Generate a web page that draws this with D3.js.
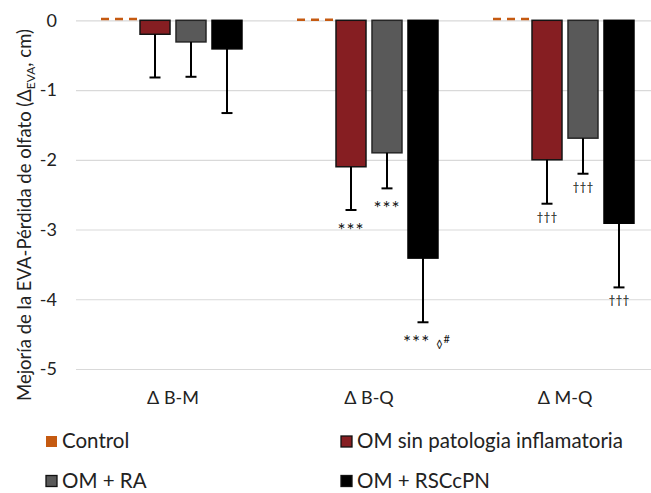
<!DOCTYPE html>
<meta charset="utf-8">
<style>
body {
  margin: 0;
  background: #fff;
}
svg text {
  font-family: Lato, "Open Sans", sans-serif;
  fill: #222;
}
.grid line {
  stroke: #d9d9d9;
  stroke-width: 1.2px;
}
.grid path,
.axis path {
  display: none;
}
.err {
  stroke: #000;
  stroke-width: 2px;
}
</style>
<body>
<div id="container"></div>
<script src="https://cdn.jsdelivr.net/npm/d3@7"></script>
<script>

// data
var categories = ["\u0394 B-M", "\u0394 B-Q", "\u0394 M-Q"];
var series = ["Control", "OM sin patologia inflamatoria", "OM + RA", "OM + RSCcPN"];
var control = [0.01, 0, 0.01];
var omSin = [-0.20, -2.10, -2.00];
var omRA = [-0.31, -1.90, -1.69];
var omRSC = [-0.41, -3.41, -2.91];
var errSin = [0.62, 0.62, 0.63];
var errRA = [0.50, 0.51, 0.51];
var errRSC = [0.92, 0.92, 0.92];
var yTicks = [0, -1, -2, -3, -4, -5];
// significance marks: [category, series, text]
var marks = [
  [1, 1, "***"],
  [1, 2, "***"],
  [1, 3, "*** \u25ca#"],
  [2, 1, "\u2020\u2020\u2020"],
  [2, 2, "\u2020\u2020\u2020"],
  [2, 3, "\u2020\u2020\u2020"]
];

var colors = ["#c55a11", "#861e22", "#595959", "#000000"];
var strokes = ["none", "#141414", "#262626", "#000000"];

var values = [control, omSin, omRA, omRSC];
var errors = [null, errSin, errRA, errRSC];

var width = 651, height = 493;
var plot = {left: 76, right: 651, top: 20.3, bottom: 369};

var svg = d3.select("#container")
  .append("svg")
    .attr("width", width)
    .attr("height", height);

// scales
var x0 = d3.scaleBand()
  .domain(categories)
  .range([75, 663])
  .paddingInner(0)
  .paddingOuter(0);

var x1 = d3.scaleBand()
  .domain(series)
  .range([0, x0.bandwidth()])
  .paddingInner(1 / 6)
  .paddingOuter(0.806);

var y = d3.scaleLinear()
  .domain([-5, 0])
  .range([plot.bottom, plot.top]);

// gridlines
svg.append("g")
  .attr("class", "grid")
  .attr("transform", "translate(" + plot.left + ",0)")
  .call(d3.axisLeft(y).tickValues(yTicks).tickSize(-(plot.right - plot.left)).tickFormat(""));

// y axis labels
var yAxis = svg.append("g")
  .attr("class", "axis")
  .attr("transform", "translate(57,0)")
  .call(d3.axisLeft(y).tickValues(yTicks).tickSize(0).tickPadding(0).tickFormat(d3.format("d")));
yAxis.selectAll("text")
  .style("font-size", "18px")
  .attr("fill", "#333")
  .text(function(d) { return d === 0 ? "0" : "-" + Math.abs(d); });

// x axis labels
var xAxis = svg.append("g")
  .attr("class", "axis")
  .attr("transform", "translate(0,384)")
  .call(d3.axisBottom(x0).tickSize(0).tickPadding(0));
xAxis.selectAll("text")
  .style("font-size", "18px")
  .attr("fill", "#333")
  .attr("dy", "0.71em")
  .attr("y", 7);

// bars
series.forEach(function(s, si) {
  var g = svg.append("g");
  var data = values[si].map(function(v, ci) {
    return {cat: categories[ci], v: v, e: errors[si] ? errors[si][ci] : 0};
  });
  if (si === 0) {
    g.selectAll("line")
      .data(data)
      .enter().append("line")
        .attr("x1", function(d) { return x0(d.cat) + x1(s) - 3; })
        .attr("x2", function(d) { return x0(d.cat) + x1(s) + x1.bandwidth() + 3; })
        .attr("y1", function(d) { return y(d.v) - 0.5; })
        .attr("y2", function(d) { return y(d.v) - 0.5; })
        .attr("stroke", colors[0])
        .attr("stroke-width", 2.5)
        .attr("stroke-dasharray", "8,6");
    return;
  }
  g.selectAll("rect")
    .data(data)
    .enter().append("rect")
      .attr("x", function(d) { return x0(d.cat) + x1(s); })
      .attr("y", y(0))
      .attr("width", x1.bandwidth())
      .attr("height", function(d) { return y(d.v) - y(0); })
      .attr("fill", colors[si])
      .attr("stroke", strokes[si])
      .attr("stroke-width", 1.5);

  // error bars (downward only)
  var eg = g.selectAll(".eb")
    .data(data)
    .enter().append("g")
      .attr("class", "err");
  eg.append("line")
    .attr("x1", function(d) { return x0(d.cat) + x1(s) + x1.bandwidth() / 2; })
    .attr("x2", function(d) { return x0(d.cat) + x1(s) + x1.bandwidth() / 2; })
    .attr("y1", function(d) { return y(d.v); })
    .attr("y2", function(d) { return y(d.v - d.e); });
  eg.append("line")
    .attr("x1", function(d) { return x0(d.cat) + x1(s) + x1.bandwidth() / 2 - 5.5; })
    .attr("x2", function(d) { return x0(d.cat) + x1(s) + x1.bandwidth() / 2 + 5.5; })
    .attr("y1", function(d) { return y(d.v - d.e); })
    .attr("y2", function(d) { return y(d.v - d.e); });
});

// significance marks
marks.forEach(function(m) {
  var ci = m[0], si = m[1], txt = m[2];
  var cx = x0(categories[ci]) + x1(series[si]) + x1.bandwidth() / 2;
  var yEnd = y(values[si][ci] - errors[si][ci]);
  var dagger = txt.indexOf("\u2020") >= 0;
  var t = svg.append("text")
    .attr("x", cx)
    .attr("y", yEnd + (dagger ? 17 : 27))
    .attr("text-anchor", "middle")
    .style("font-size", dagger ? "12px" : "19px")
    .style("letter-spacing", dagger ? "0px" : "1px")
    .style("fill", "#111");
  if (txt.indexOf("#") >= 0) {
    var parts = txt.split(" ");
    t.attr("x", cx + 4);
    t.append("tspan").text(parts[0] + " ");
    t.append("tspan").style("font-size", "11px").attr("dy", -1).text(parts[1].charAt(0));
    t.append("tspan").style("font-size", "11px").attr("dy", -5).text("#");
  } else {
    t.text(txt);
  }
});

// y axis title
var title = svg.append("text")
  .attr("transform", "translate(31,215) rotate(-90)")
  .attr("text-anchor", "middle")
  .style("font-size", "18.5px")
  .attr("fill", "#222");
title.append("tspan").text("Mejor\u00eda de la EVA-P\u00e9rdida de olfato  (\u0394");
title.append("tspan").style("font-size", "12px").attr("dy", 4).text("EVA");
title.append("tspan").attr("dy", -4).text(", cm)");

// legend
var legendX = [46, 341];
var legendY = [441.5, 481];
var legend = svg.append("g");
series.forEach(function(s, i) {
  var lx = legendX[i % 2], ly = legendY[Math.floor(i / 2)];
  legend.append("rect")
    .attr("x", lx)
    .attr("y", ly - 5.5)
    .attr("width", 11)
    .attr("height", 11)
    .attr("fill", colors[i])
    .attr("stroke", i === 0 ? "none" : "#111")
    .attr("stroke-width", 1.3);
  legend.append("text")
    .attr("x", lx + 16)
    .attr("y", ly + 6.5)
    .style("font-size", "20.5px")
    .attr("fill", "#333")
    .text(s);
});

</script>
</body>
